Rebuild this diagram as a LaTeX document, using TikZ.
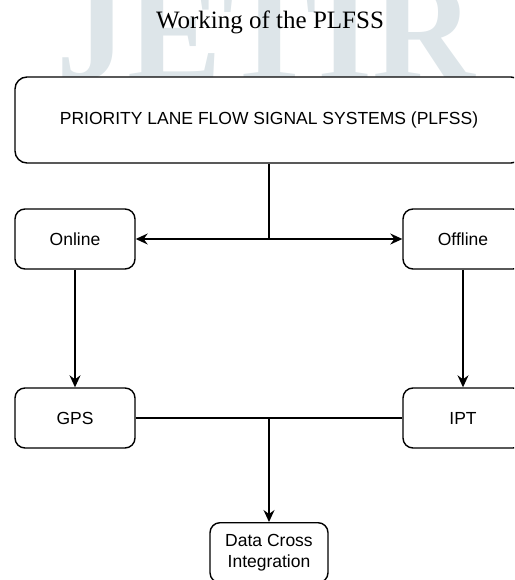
\documentclass[tikz,border=0pt]{standalone}
\usepackage{fontspec}
\setmainfont{Liberation Serif}
\newfontfamily\boxfont{Liberation Sans}
\usetikzlibrary{shapes,arrows.meta,positioning}

\definecolor{markgray}{RGB}{221,229,233}

\begin{document}
\begin{tikzpicture}[
    x=1pt, y=1pt,
    mainbox/.style={rectangle, draw, fill=white, line width=1.4pt, rounded corners=12pt, minimum width=508pt, minimum height=86pt, font=\boxfont\fontsize{17.5}{21}\selectfont},
    smallbox/.style={rectangle, draw, fill=white, line width=1.4pt, rounded corners=10pt, minimum width=120pt, minimum height=60pt, align=center, font=\boxfont\fontsize{17.5}{21}\selectfont},
    watermark/.style={text=markgray, font=\bfseries\fontsize{142}{142}\selectfont, inner sep=0pt},
    label/.style={font=\fontsize{25}{30}\selectfont},
    arrow/.style={-{Stealth[length=12pt,width=11pt,inset=4pt]}, line width=1.4pt},
    line/.style={line width=1.4pt}
]
\useasboundingbox (0,0) rectangle (514,-580);
\clip (0,0) rectangle (514,-580);

% Watermark and title
\node[watermark, anchor=base] (mark) at (266,-80) {JETIR};
\node[label] (title) at (270,-22) {Working of the PLFSS};

% Main system
\node[mainbox] (plfss) at (269,-120) {PRIORITY LANE FLOW SIGNAL SYSTEMS (PLFSS)};

% Modes
\node[smallbox] (online) at (75,-239) {Online};
\node[smallbox] (offline) at (463,-239) {Offline};

% Sources
\node[smallbox] (gps) at (75,-418) {GPS};
\node[smallbox] (ipt) at (463,-418) {IPT};

% Result
\node[smallbox, minimum width=118pt, anchor=north] (dci) at (269,-522) {Data Cross\\Integration};

% Arrows
\coordinate (split) at (plfss.south |- online.east);
\coordinate (join) at (dci.north |- gps.east);
\draw[line] (plfss.south) -- (split);
\draw[arrow] (split) -- (online.east);
\draw[arrow] (split) -- (offline.west);
\draw[arrow] (online.south) -- (gps.north);
\draw[arrow] (offline.south) -- (ipt.north);
\draw[line] (gps.east) -- (ipt.west);
\draw[arrow] (join) -- (dci.north);

\end{tikzpicture}
\end{document}
